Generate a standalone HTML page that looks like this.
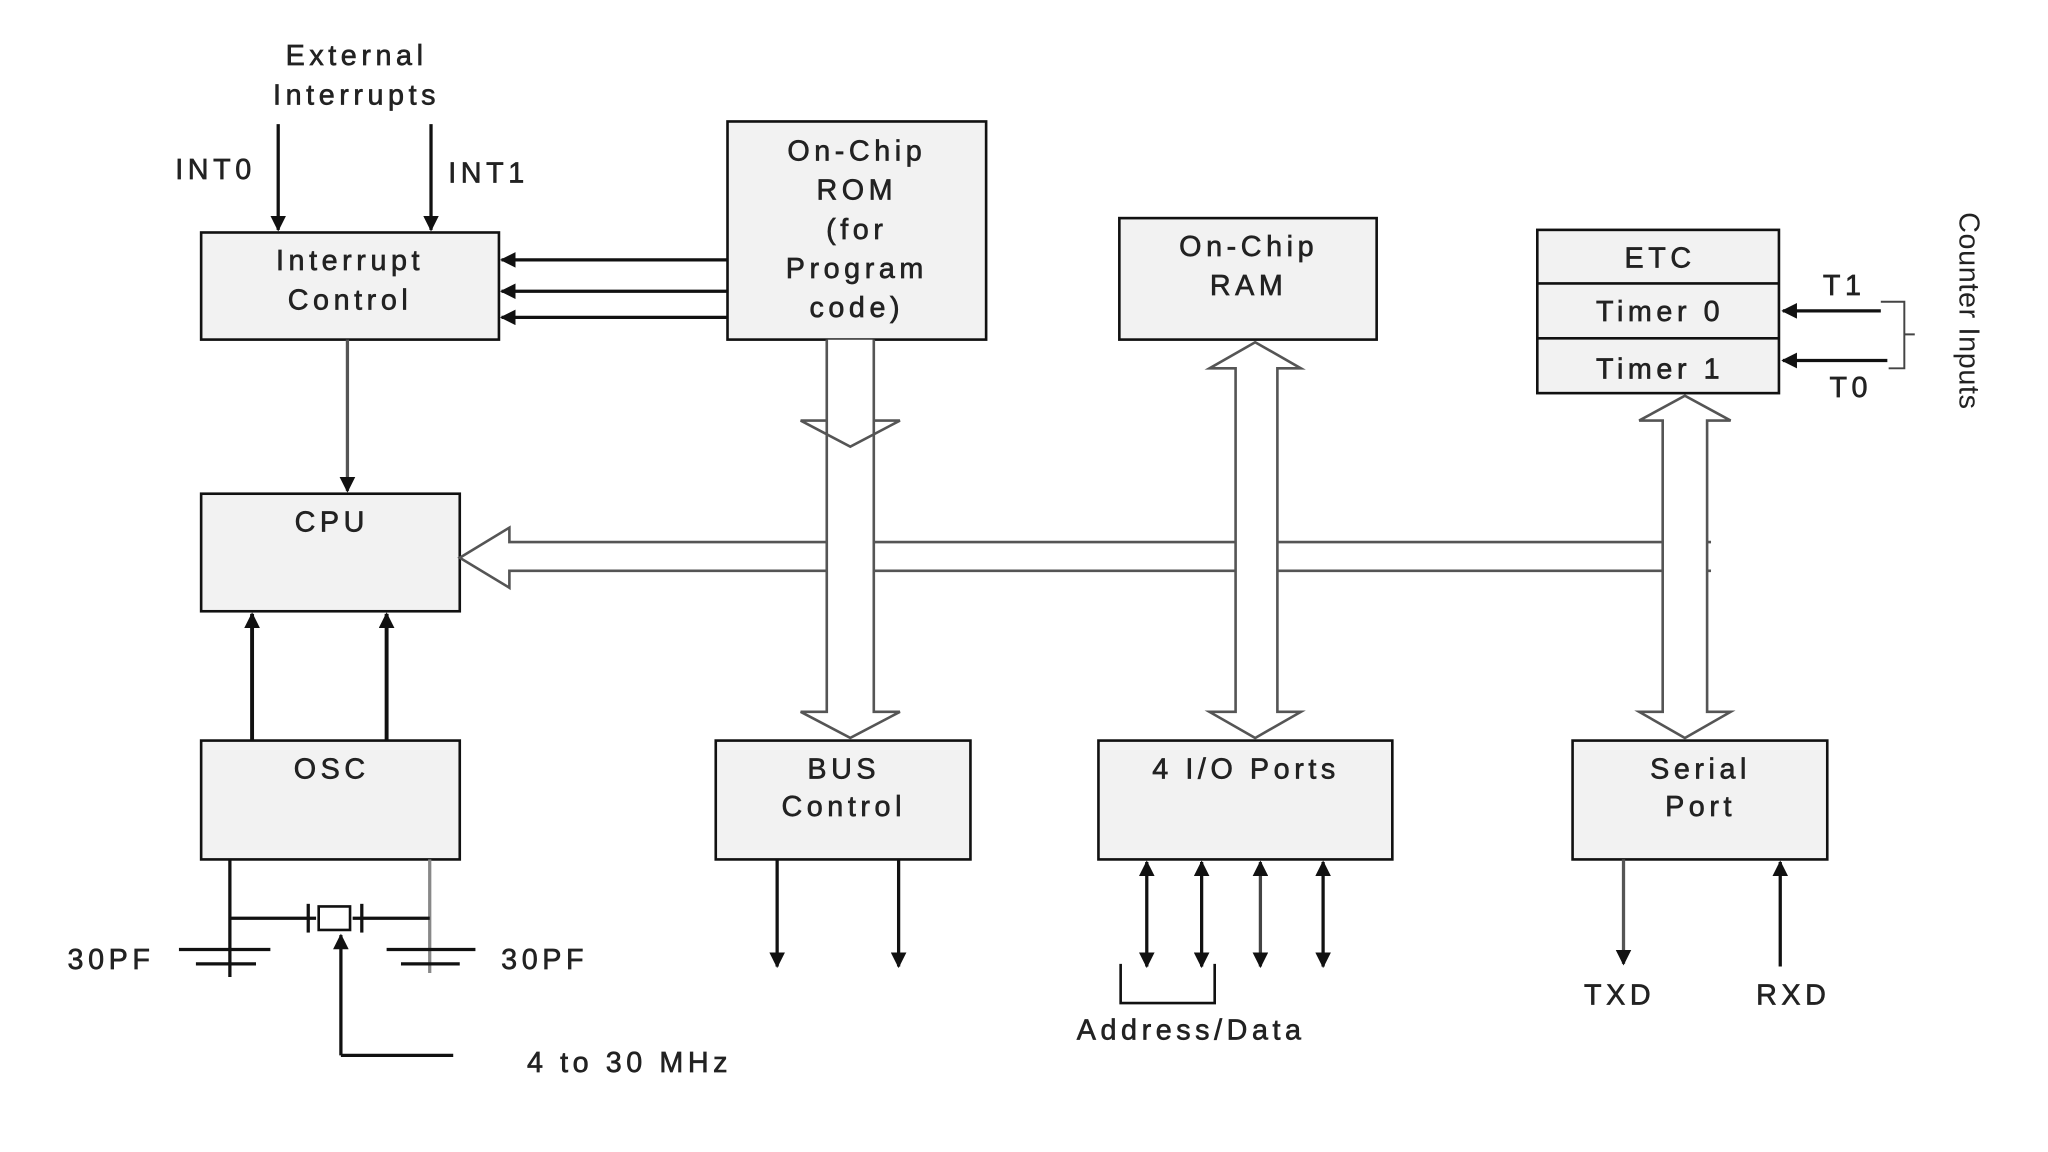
<!DOCTYPE html>
<html><head><meta charset="utf-8"><style>
html,body{margin:0;padding:0;background:#fff;}
svg{display:block;}
text{font-family:"Liberation Sans",sans-serif;font-size:22px;fill:#222;stroke:#222;stroke-width:0.5;text-anchor:middle;dominant-baseline:central;letter-spacing:3.5px;}
</style></head><body>
<svg width="2048" height="1152" viewBox="0 0 1568 882" preserveAspectRatio="none" xmlns="http://www.w3.org/2000/svg">
<defs>
<marker id="ahb" viewBox="0 0 10 10" refX="9" refY="5" markerWidth="12" markerHeight="12" markerUnits="userSpaceOnUse" orient="auto-start-reverse"><path d="M0,0 L10,5 L0,10 z" fill="#111"/></marker>
</defs>
<rect width="1568" height="882" fill="#fff"/>
<g fill="#f2f2f2" stroke="#111" stroke-width="2">
<rect x="154" y="178" width="228" height="82"/>
<rect x="557" y="93" width="198" height="167"/>
<rect x="857" y="167" width="197" height="93"/>
<rect x="1177" y="176" width="185" height="125"/>
<rect x="154" y="378" width="198" height="90"/>
<rect x="154" y="567" width="198" height="91"/>
<rect x="548" y="567" width="195" height="91"/>
<rect x="841" y="567" width="225" height="91"/>
<rect x="1204" y="567" width="195" height="91"/>
</g>
<g stroke="#111" stroke-width="2"><line x1="1177" y1="217" x2="1362" y2="217"/><line x1="1177" y1="259" x2="1362" y2="259"/></g>
<text x="268" y="200">Interrupt</text><text x="268" y="230">Control</text>
<text x="656" y="116">On-Chip</text><text x="656" y="146">ROM</text><text x="656" y="176">(for</text><text x="656" y="206">Program</text><text x="656" y="236">code)</text>
<text x="956" y="189">On-Chip</text><text x="956" y="219">RAM</text>
<text x="1271" y="198">ETC</text><text x="1271" y="239">Timer 0</text><text x="1271" y="283">Timer 1</text>
<text x="254" y="400">CPU</text><text x="254" y="589">OSC</text>
<text x="646" y="589">BUS</text><text x="646" y="618">Control</text>
<text x="954" y="589">4 I/O Ports</text>
<text x="1302" y="589">Serial</text><text x="1302" y="618">Port</text>
<text x="273" y="43">External</text><text x="273" y="73">Interrupts</text>
<text x="165" y="130">INT0</text><text x="374" y="133">INT1</text>
<text x="1412" y="219">T1</text><text x="1417" y="297">T0</text>
<text x="0" y="0" transform="translate(1507,238) rotate(90)" style="letter-spacing:0.5px;stroke-width:0">Counter Inputs</text>
<text x="912" y="789">Address/Data</text>
<text x="1240" y="762">TXD</text><text x="1373" y="762">RXD</text>
<text x="85" y="735">30PF</text><text x="417" y="735">30PF</text>
<text x="482" y="814">4 to 30 MHz</text>
<g stroke="#111" stroke-width="2.5" fill="none">
<line x1="213" y1="95" x2="213" y2="176" marker-end="url(#ahb)"/>
<line x1="330" y1="95" x2="330" y2="176" marker-end="url(#ahb)"/>
<line x1="557" y1="199" x2="384" y2="199" marker-end="url(#ahb)"/>
<line x1="557" y1="223" x2="384" y2="223" marker-end="url(#ahb)"/>
<line x1="557" y1="243" x2="384" y2="243" marker-end="url(#ahb)"/>
<line x1="193" y1="567" x2="193" y2="470" stroke-width="3" marker-end="url(#ahb)"/>
<line x1="296" y1="567" x2="296" y2="470" stroke-width="3" marker-end="url(#ahb)"/>
<line x1="595" y1="658" x2="595" y2="740" marker-end="url(#ahb)"/>
<line x1="688" y1="658" x2="688" y2="740" marker-end="url(#ahb)"/>
<line x1="878" y1="660" x2="878" y2="740" marker-start="url(#ahb)" marker-end="url(#ahb)"/>
<line x1="920" y1="660" x2="920" y2="740" marker-start="url(#ahb)" marker-end="url(#ahb)"/>
<line x1="965" y1="660" x2="965" y2="740" stroke="#444" marker-start="url(#ahb)" marker-end="url(#ahb)"/>
<line x1="1013" y1="660" x2="1013" y2="740" marker-start="url(#ahb)" marker-end="url(#ahb)"/>
<line x1="1243" y1="658" x2="1243" y2="738" stroke="#555" marker-end="url(#ahb)"/>
<line x1="1363" y1="740" x2="1363" y2="660" marker-end="url(#ahb)"/>
<line x1="1440" y1="238" x2="1365" y2="238" marker-end="url(#ahb)"/>
<line x1="1445" y1="276" x2="1365" y2="276" marker-end="url(#ahb)"/>
<path d="M1440,231 H1458 V282 H1446 M1458,256 H1466" stroke-width="1.5" stroke="#444"/>
<path d="M858,738 V768 H930 V738" stroke-width="2"/>
<line x1="261" y1="808" x2="261" y2="716" marker-end="url(#ahb)"/>
<line x1="261" y1="808" x2="347" y2="808"/>
<line x1="176" y1="658" x2="176" y2="748"/>
<line x1="329" y1="658" x2="329" y2="745" stroke="#888"/>
<line x1="176" y1="703" x2="242" y2="703"/><line x1="270" y1="703" x2="329" y2="703"/>
<rect x="244" y="694" width="24" height="18" stroke-width="2"/>
<line x1="236" y1="692" x2="236" y2="714"/><line x1="277" y1="692" x2="277" y2="714"/>
<line x1="137" y1="727" x2="207" y2="727"/><line x1="150" y1="738" x2="196" y2="738"/>
<line x1="296" y1="727" x2="364" y2="727"/><line x1="307" y1="738" x2="352" y2="738"/>
</g>
<line x1="266" y1="260" x2="266" y2="376" stroke="#555" stroke-width="2.5" marker-end="url(#ahb)"/>
<g fill="#fff" stroke="#555" stroke-width="2">
<path d="M1310,415 H390 V404 L352,427 L390,450 V437 H1310"/>
<path d="M633,260 V545 H613 L651,565 L689,545 H669 V260"/>
<path d="M633,322 H613 L651,342 L689,322 H669" fill="none"/>
<path d="M946,545 V282 H926 L961,262 L996,282 H978 V545 H996 L961,565 L926,545 Z"/>
<path d="M1273,545 V322 H1255 L1290,303 L1325,322 H1307 V545 H1325 L1290,565 L1255,545 Z"/>
</g>
</svg>
</body></html>
